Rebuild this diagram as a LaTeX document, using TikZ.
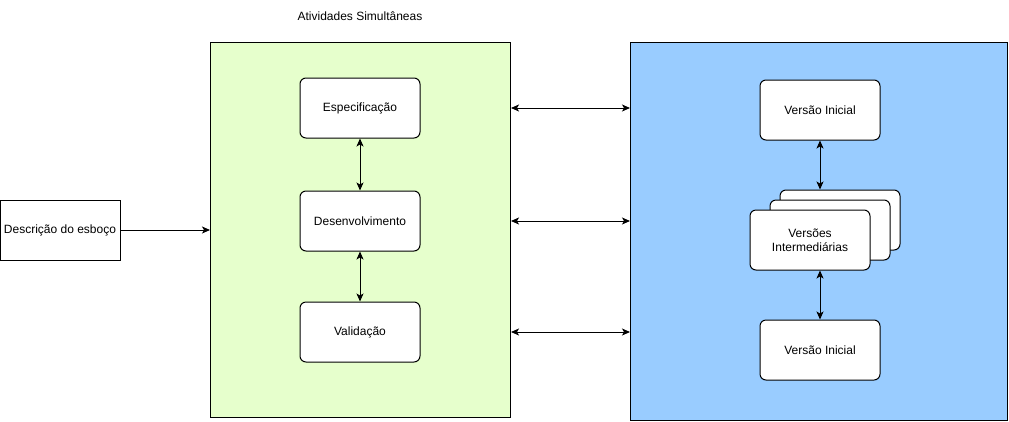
\documentclass[tikz,border=0pt]{standalone}
\usepackage{fontspec}
\setmainfont{Liberation Sans}
\usetikzlibrary{arrows.meta}
\usetikzlibrary{positioning}

\definecolor{verde}{HTML}{E6FFCC}
\definecolor{azul}{HTML}{99CCFF}

\begin{document}
\begin{tikzpicture}[x=1pt,y=-1pt,line width=1pt]
  \tikzset{vertex/.style = {shape=rectangle,draw,fill=white,rounded corners=6pt,
      minimum width=120pt,minimum height=60pt,align=center,font=\fontsize{12}{14}\selectfont}}
  \tikzset{group/.style = {shape=rectangle,draw,anchor=north west,inner sep=0pt}}
  \tikzset{edge/.style = {->,> = {Stealth[length=8pt,width=7pt,inset=2pt]}}}
  \tikzset{both/.style = {<->,> = {Stealth[length=8pt,width=7pt,inset=2pt]}}}

  \useasboundingbox (0,0) rectangle (1009,421);

  \node[font=\fontsize{12}{14}\selectfont] (tit) at (360,16) {Atividades Simultâneas};

  % atividades
  \node[group,fill=verde,minimum width=300pt,minimum height=375pt] (grn) at (210,42) {};
  \node[vertex] (esp) at (360,108) {Especificação};
  \node[vertex] (des) [below =52pt of esp] {Desenvolvimento};
  \node[vertex] (val) [below =50pt of des] {Validação};

  % versoes
  \node[group,fill=azul,minimum width=377pt,minimum height=378pt] (blu) at (630,42) {};
  \node[vertex] (ini) at (820,110) {Versão Inicial};
  \node[vertex] (bck) at (840,220) {};
  \node[vertex] (mid) at (830,230) {};
  \node[vertex] (int) at (810,240) {Versões\\Intermediárias};
  \node[vertex] (fim) at (820,350) {Versão Inicial};

  \node[vertex,rounded corners=0pt] (dsc) at (60,230) {Descrição do esboço};

  \draw[edge] (dsc) to (dsc.east -| grn.west);
  \draw[both] (esp) to (des);
  \draw[both] (des) to (val);
  \draw[both] (grn.east |- esp) to (blu.west |- esp);
  \draw[both] (grn.east |- des) to (blu.west |- des);
  \draw[both] (grn.east |- val) to (blu.west |- val);
  \draw[both] (ini) to (ini.south |- bck.north);
  \draw[both] (fim) to (fim.north |- int.south);

\end{tikzpicture}
\end{document}
